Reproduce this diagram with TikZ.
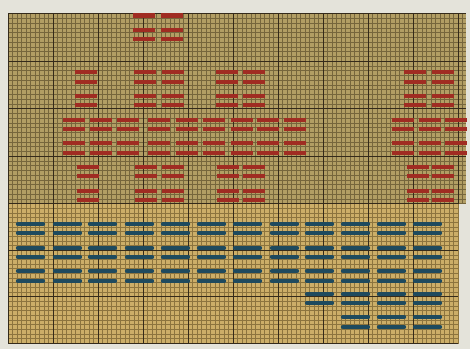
\documentclass[tikz,border=0pt]{standalone}
\usepackage{xcolor}
\usepackage{tikz}

\definecolor{wall}{RGB}{228,227,218}
\definecolor{topsheet}{RGB}{178,158,100}
\definecolor{lowsheet}{RGB}{204,174,104}
\definecolor{topline}{RGB}{118,102,60}
\definecolor{lowline}{RGB}{140,116,62}
\definecolor{inkdark}{RGB}{52,42,26}
\definecolor{hexred}{RGB}{160,44,34}
\definecolor{hexblue}{RGB}{30,74,94}

\begin{document}
\begin{tikzpicture}[
  x=1pt, y=-1pt,
  fine/.style={line width=0.3pt},
  major/.style={line width=0.8pt, draw=inkdark},
  redbar/.style={line width=4.6pt, draw=hexred},
  bluebar/.style={line width=4.4pt, draw=hexblue, line cap=round}
]
  \path[use as bounding box, fill=wall] (0,0) rectangle (470,349);

  % sheets
  \fill[topsheet] (8,13.5) rectangle (466,203.5);
  \fill[lowsheet] (8,203.5) rectangle (458,344);

  % fine grid
  \begin{scope}[fine, draw=topline]
    \foreach \i in {0,...,101} \draw ({8+4.5*\i},13.5) -- ({8+4.5*\i},203.5);
    \foreach \j in {0,...,40} \draw (8,{13.5+4.75*\j}) -- (466,{13.5+4.75*\j});
  \end{scope}
  \begin{scope}[fine, draw=lowline]
    \foreach \i in {0,...,100} \draw ({8+4.5*\i},203.5) -- ({8+4.5*\i},344);
    \foreach \j in {0,...,30} \draw (8,{203.5+4.65*\j}) -- (458,{203.5+4.65*\j});
  \end{scope}

  % major grid
  \foreach \i in {0,...,10} \draw[major] ({8+45*\i},13.5) -- ({8+45*\i},203.5);
  \foreach \i in {0,...,9} \draw[major] ({8+45*\i},203.5) -- ({8+45*\i},344);
  \foreach \y in {13.5,61,108.5,156} \draw[major] (8,\y) -- (466,\y);
  \foreach \y in {203.5,250,296.5,343} \draw[major] (8,\y) -- (458,\y);

  % red bars
  \foreach \x in {133,161}
    \foreach \y in {15.5,30,39} \draw[redbar] (\x,\y) -- ++(22,0);
  \foreach \x in {75,134,162,216,243,404,432}
    \foreach \y in {72,82,96,105} \draw[redbar] (\x,\y) -- ++(22,0);
  \foreach \x in {63,90,117,148,176,203,231,257,284,392,419,445}
    \foreach \y in {120,129,143,153} \draw[redbar] (\x,\y) -- ++(22,0);
  \foreach \x in {77,135,162,217,243,407,432}
    \foreach \y in {167,176,191,200} \draw[redbar] (\x,\y) -- ++(22,0);

  % blue bars
  \foreach \x in {18,55,90,127,163,199,235,272,307,343,379,415}
    \foreach \y in {224,233,248,257,271,281} \draw[bluebar] (\x,\y) -- ++(25,0);
  \foreach \x in {307,343,379,415}
    \foreach \y in {294,303} \draw[bluebar] (\x,\y) -- ++(25,0);
  \foreach \x in {343,379,415}
    \foreach \y in {317,327} \draw[bluebar] (\x,\y) -- ++(25,0);
\end{tikzpicture}
\end{document}
